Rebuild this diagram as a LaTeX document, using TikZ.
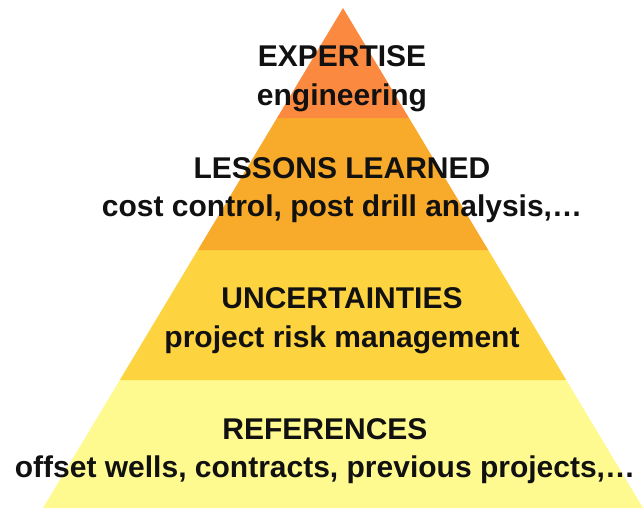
\documentclass[tikz,border=0pt]{standalone}
\usepackage{fontspec}
\setmainfont{Liberation Sans}
\usepackage{tikz}
\usetikzlibrary{positioning}
\definecolor{pyrTop}{HTML}{FB8A40}
\definecolor{pyrSecond}{HTML}{F8AA2A}
\definecolor{pyrThird}{HTML}{FED340}
\definecolor{pyrBase}{HTML}{FFFA90}
\definecolor{pyrInk}{HTML}{111111}

\begin{document}
\begin{tikzpicture}[
  x=0.75pt,
  y=-0.75pt,
  band/.style={draw=none},
  label/.style={
    align=center,
    text=pyrInk,
    inner sep=0pt,
    font=\fontsize{22.5}{29}\selectfont\bfseries
  }
]
\useasboundingbox (0,0) rectangle (643,508);

% layers, apex at (343,8), half width grows 0.6 per unit down
\fill[band, pyrBase]   (119.8,380) -- (566.2,380) -- (643,508) -- (43,508) -- cycle;
\fill[band, pyrThird]  (197.8,250) -- (488.2,250) -- (566.2,380) -- (119.8,380) -- cycle;
\fill[band, pyrSecond] (277,118)   -- (409,118)   -- (488.2,250) -- (197.8,250) -- cycle;
\fill[band, pyrTop]    (343,8)     -- (409,118)   -- (277,118) -- cycle;

\node[label] (expertise)   at (342, 79)  {EXPERTISE\\engineering};
\node[label] (lessons)     at (342, 190) {LESSONS LEARNED\\cost control, post drill analysis,…};
\node[label] (uncertain)   at (342, 321) {UNCERTAINTIES\\project risk management};
\node[label] (references)  at (325, 451) {REFERENCES\\offset wells, contracts, previous projects,…};
\end{tikzpicture}
\end{document}
